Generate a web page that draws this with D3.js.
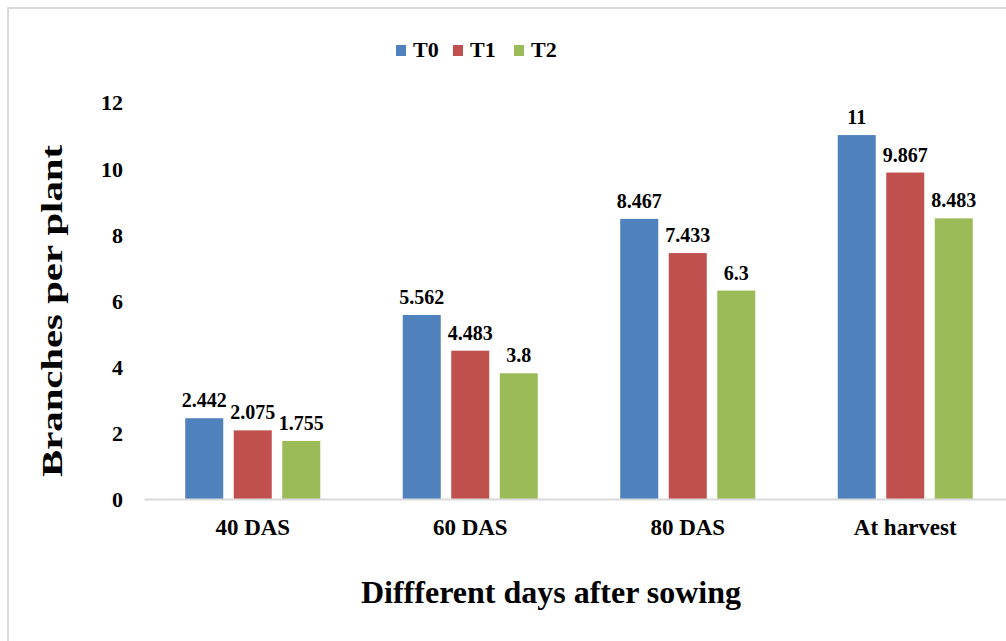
<!DOCTYPE html>
<html>
<head>
<meta charset="utf-8">
<script src="https://cdn.jsdelivr.net/npm/d3@7"></script>
<style>
  body { margin: 0; background: #fff; }
  svg text { font-family: "Liberation Serif", "Times New Roman", serif; font-weight: bold; fill: #000; }
</style>
</head>
<body>
<div id="chart"></div>
<script>
// chart values
var categories = ["40 DAS", "60 DAS", "80 DAS", "At harvest"];
var seriesNames = ["T0", "T1", "T2"];
var T0 = [2.442, 5.562, 8.467, 11];
var T1 = [2.075, 4.483, 7.433, 9.867];
var T2 = [1.755, 3.8, 6.3, 8.483];
var labelsT0 = ["2.442", "5.562", "8.467", "11"];
var labelsT1 = ["2.075", "4.483", "7.433", "9.867"];
var labelsT2 = ["1.755", "3.8", "6.3", "8.483"];
var yTicks = [0, 2, 4, 6, 8, 10, 12];
var colors = ["#4F81BD", "#C0504D", "#9BBB59"];

var seriesValues = [T0, T1, T2];
var seriesLabels = [labelsT0, labelsT1, labelsT2];

var width = 1006, height = 641;

var svg = d3.select("#chart").append("svg")
    .attr("width", width)
    .attr("height", height);

// outer frame (cropped on right / bottom)
svg.append("rect")
    .attr("x", 8).attr("y", 8)
    .attr("width", 1020).attr("height", 660)
    .attr("fill", "none")
    .attr("stroke", "#D9D9D9")
    .attr("stroke-width", 2);

// scales
var x0 = d3.scaleBand()
    .domain(categories)
    .range([144, 1014])
    .padding(0);

var x1 = d3.scaleBand()
    .domain(seriesNames)
    .range([0, x0.bandwidth()])
    .paddingInner(0.2165)
    .paddingOuter(0.85);

var y = d3.scaleLinear()
    .domain([0, 12])
    .range([499, 102]);

// y axis labels (no line)
var yAxis = d3.axisLeft(y).tickValues(yTicks).tickSize(0).tickPadding(0);
var yg = svg.append("g")
    .attr("transform", "translate(123,0)")
    .call(yAxis);
yg.select(".domain").remove();
yg.selectAll("text")
    .attr("font-size", 22)
    .attr("font-family", null)
    .attr("dy", "0.36em");

// bars
var groups = svg.append("g").selectAll("g")
    .data(seriesNames)
    .join("g")
    .attr("fill", function(d, i) { return colors[i]; });

groups.each(function(s, si) {
    var g = d3.select(this);
    var rows = categories.map(function(c, ci) {
        return { cat: c, v: seriesValues[si][ci], lab: seriesLabels[si][ci] };
    });
    g.selectAll("rect")
        .data(rows)
        .join("rect")
        .attr("x", function(d) { return x0(d.cat) + x1(s); })
        .attr("y", function(d) { return y(d.v); })
        .attr("width", x1.bandwidth())
        .attr("height", function(d) { return y(0) - y(d.v); });

    g.selectAll("text")
        .data(rows)
        .join("text")
        .attr("x", function(d) { return x0(d.cat) + x1(s) + x1.bandwidth() / 2; })
        .attr("y", function(d) { return y(d.v) - 11; })
        .attr("text-anchor", "middle")
        .attr("font-size", 20)
        .style("fill", "#000")
        .text(function(d) { return d.lab; });
});

// x axis
var xAxis = d3.axisBottom(x0).tickSize(0).tickPadding(0);
var xg = svg.append("g")
    .attr("transform", "translate(0,499)")
    .call(xAxis);
xg.select(".domain")
    .attr("stroke", "#D9D9D9")
    .attr("stroke-width", 2);
xg.selectAll("text")
    .attr("font-size", 23)
    .attr("font-family", null)
    .attr("dy", null)
    .attr("y", 36);

// axis titles
svg.append("text")
    .attr("transform", "translate(62,311) rotate(-90)")
    .attr("text-anchor", "middle")
    .attr("font-size", 30)
    .attr("textLength", 332)
    .attr("lengthAdjust", "spacingAndGlyphs")
    .text("Branches per plant");

svg.append("text")
    .attr("x", 551)
    .attr("y", 603)
    .attr("text-anchor", "middle")
    .attr("font-size", 32)
    .text("Diffferent days after sowing");

// legend
var legendX = [396, 453, 514];
var legend = svg.append("g").selectAll("g")
    .data(seriesNames)
    .join("g")
    .attr("transform", function(d, i) { return "translate(" + legendX[i] + ",0)"; });
legend.append("rect")
    .attr("x", 0).attr("y", 45)
    .attr("width", 10).attr("height", 11)
    .attr("fill", function(d, i) { return colors[i]; });
legend.append("text")
    .attr("x", 17).attr("y", 57)
    .attr("font-size", 22)
    .text(function(d) { return d; });
</script>
</body>
</html>
